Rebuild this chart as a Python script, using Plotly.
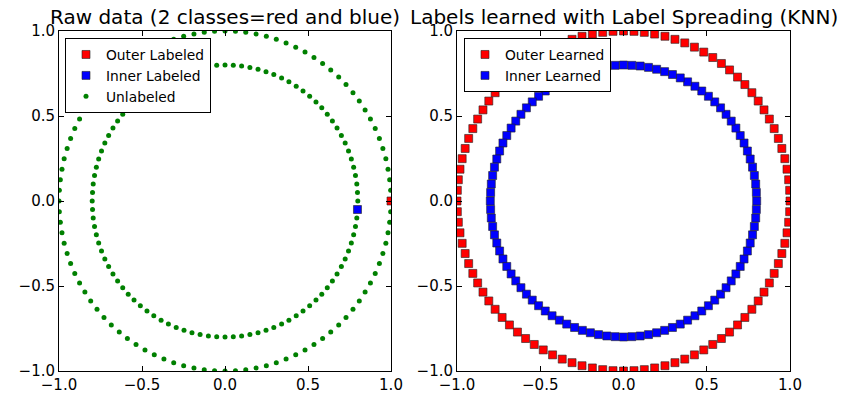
import plotly.graph_objects as go

# make_circles(n_samples=200, factor=0.8, shuffle=False): outer circle (class 0), inner circle (class 1)
outer_x = [1.0, 0.998, 0.992, 0.982, 0.969, 0.951, 0.930, 0.905, 0.876, 0.844, 0.809, 0.771, 0.729,
           0.685, 0.637, 0.588, 0.536, 0.482, 0.426, 0.368, 0.309, 0.249, 0.187, 0.125, 0.063, 0.0,
           -0.063, -0.125, -0.187, -0.249, -0.309, -0.368, -0.426, -0.482, -0.536, -0.588, -0.637,
           -0.685, -0.729, -0.771, -0.809, -0.844, -0.876, -0.905, -0.930, -0.951, -0.969, -0.982,
           -0.992, -0.998, -1.0,
           -0.998, -0.992, -0.982, -0.969, -0.951, -0.930, -0.905, -0.876, -0.844, -0.809, -0.771,
           -0.729, -0.685, -0.637, -0.588, -0.536, -0.482, -0.426, -0.368, -0.309, -0.249, -0.187,
           -0.125, -0.063, 0.0,
           0.063, 0.125, 0.187, 0.249, 0.309, 0.368, 0.426, 0.482, 0.536, 0.588, 0.637, 0.685,
           0.729, 0.771, 0.809, 0.844, 0.876, 0.905, 0.930, 0.951, 0.969, 0.982, 0.992, 0.998]
outer_y = [0.0, 0.063, 0.125, 0.187, 0.249, 0.309, 0.368, 0.426, 0.482, 0.536, 0.588, 0.637, 0.685,
           0.729, 0.771, 0.809, 0.844, 0.876, 0.905, 0.930, 0.951, 0.969, 0.982, 0.992, 0.998, 1.0,
           0.998, 0.992, 0.982, 0.969, 0.951, 0.930, 0.905, 0.876, 0.844, 0.809, 0.771, 0.729,
           0.685, 0.637, 0.588, 0.536, 0.482, 0.426, 0.368, 0.309, 0.249, 0.187, 0.125, 0.063, 0.0,
           -0.063, -0.125, -0.187, -0.249, -0.309, -0.368, -0.426, -0.482, -0.536, -0.588, -0.637,
           -0.685, -0.729, -0.771, -0.809, -0.844, -0.876, -0.905, -0.930, -0.951, -0.969, -0.982,
           -0.992, -0.998, -1.0,
           -0.998, -0.992, -0.982, -0.969, -0.951, -0.930, -0.905, -0.876, -0.844, -0.809, -0.771,
           -0.729, -0.685, -0.637, -0.588, -0.536, -0.482, -0.426, -0.368, -0.309, -0.249, -0.187,
           -0.125, -0.063]
inner_x = [0.8, 0.798, 0.794, 0.786, 0.775, 0.761, 0.744, 0.724, 0.701, 0.675, 0.647, 0.616, 0.583,
           0.548, 0.510, 0.470, 0.429, 0.385, 0.341, 0.294, 0.247, 0.199, 0.150, 0.100, 0.050, 0.0,
           -0.050, -0.100, -0.150, -0.199, -0.247, -0.294, -0.341, -0.385, -0.429, -0.470, -0.510,
           -0.548, -0.583, -0.616, -0.647, -0.675, -0.701, -0.724, -0.744, -0.761, -0.775, -0.786,
           -0.794, -0.798, -0.8,
           -0.798, -0.794, -0.786, -0.775, -0.761, -0.744, -0.724, -0.701, -0.675, -0.647, -0.616,
           -0.583, -0.548, -0.510, -0.470, -0.429, -0.385, -0.341, -0.294, -0.247, -0.199, -0.150,
           -0.100, -0.050, 0.0,
           0.050, 0.100, 0.150, 0.199, 0.247, 0.294, 0.341, 0.385, 0.429, 0.470, 0.510, 0.548,
           0.583, 0.616, 0.647, 0.675, 0.701, 0.724, 0.744, 0.761, 0.775, 0.786, 0.794, 0.798]
inner_y = [0.0, 0.050, 0.100, 0.150, 0.199, 0.247, 0.294, 0.341, 0.385, 0.429, 0.470, 0.510, 0.548,
           0.583, 0.616, 0.647, 0.675, 0.701, 0.724, 0.744, 0.761, 0.775, 0.786, 0.794, 0.798, 0.8,
           0.798, 0.794, 0.786, 0.775, 0.761, 0.744, 0.724, 0.701, 0.675, 0.647, 0.616, 0.583,
           0.548, 0.510, 0.470, 0.429, 0.385, 0.341, 0.294, 0.247, 0.199, 0.150, 0.100, 0.050, 0.0,
           -0.050, -0.100, -0.150, -0.199, -0.247, -0.294, -0.341, -0.385, -0.429, -0.470, -0.510,
           -0.548, -0.583, -0.616, -0.647, -0.675, -0.701, -0.724, -0.744, -0.761, -0.775, -0.786,
           -0.794, -0.798, -0.8,
           -0.798, -0.794, -0.786, -0.775, -0.761, -0.744, -0.724, -0.701, -0.675, -0.647, -0.616,
           -0.583, -0.548, -0.510, -0.470, -0.429, -0.385, -0.341, -0.294, -0.247, -0.199, -0.150,
           -0.100, -0.050]

X = outer_x + inner_x
Y = outer_y + inner_y
# given labels: -1 = unlabeled, 0 = outer, 1 = inner
labels = [0] + [-1] * 198 + [1]
# labels learned by label spreading
learned = [0] * 100 + [1] * 100

tick_vals = [-1.0, -0.5, 0.0, 0.5, 1.0]
tick_text = ["\u22121.0", "\u22120.5", "0.0", "0.5", "1.0"]
titles = ["Raw data (2 classes=red and blue)", "Labels learned with Label Spreading (KNN)"]

FONT = "DejaVu Sans"
RED = "#ff0000"
BLUE = "#0000ff"
GREEN = "#008000"
EDGE = dict(color="#222222", width=0.6)

def pick(vals, labs, target):
    return [v for v, l in zip(vals, labs) if l == target]

fig = go.Figure()

# left panel
fig.add_trace(go.Scatter(x=pick(X, labels, 0), y=pick(Y, labels, 0), mode="markers",
                         name="Outer Labeled", xaxis="x", yaxis="y", legend="legend",
                         marker=dict(symbol="square", size=8, color=RED, line=EDGE)))
fig.add_trace(go.Scatter(x=pick(X, labels, 1), y=pick(Y, labels, 1), mode="markers",
                         name="Inner Labeled", xaxis="x", yaxis="y", legend="legend",
                         marker=dict(symbol="square", size=8, color=BLUE, line=EDGE)))
fig.add_trace(go.Scatter(x=pick(X, labels, -1), y=pick(Y, labels, -1), mode="markers",
                         name="Unlabeled", xaxis="x", yaxis="y", legend="legend",
                         marker=dict(symbol="circle", size=5, color=GREEN, line=dict(width=0))))

# right panel
fig.add_trace(go.Scatter(x=pick(X, learned, 0), y=pick(Y, learned, 0), mode="markers",
                         name="Outer Learned", xaxis="x2", yaxis="y2", legend="legend2",
                         marker=dict(symbol="square", size=8, color=RED, line=EDGE)))
fig.add_trace(go.Scatter(x=pick(X, learned, 1), y=pick(Y, learned, 1), mode="markers",
                         name="Inner Learned", xaxis="x2", yaxis="y2", legend="legend2",
                         marker=dict(symbol="square", size=8, color=BLUE, line=EDGE)))

# body margin is removed in the page (post_script), so the figure fills the whole 850x400 window
W, H = 850, 400

def px(x):
    return x / W

def py(y):
    return 1 - y / H

dom_x1 = [px(59), px(391)]
dom_x2 = [px(457), px(790)]
dom_y = [py(371), py(31)]

axis_common = dict(range=[-1, 1], tickvals=tick_vals, ticktext=tick_text, ticks="inside",
                   ticklen=5, tickcolor="black", tickwidth=1, showline=True, linecolor="black",
                   linewidth=1, mirror="ticks", showgrid=False, zeroline=False, automargin=False,
                   tickfont=dict(family=FONT, size=15, color="black"))

legend_common = dict(bgcolor="white", bordercolor="black", borderwidth=1,
                     font=dict(family=FONT, size=13.8, color="black"),
                     xanchor="left", yanchor="top", traceorder="normal")

fig.update_layout(
    width=W, height=H,
    margin=dict(l=0, r=0, t=0, b=0, autoexpand=False),
    paper_bgcolor="white", plot_bgcolor="white",
    font=dict(family=FONT, color="black"),
    xaxis=dict(domain=dom_x1, anchor="y", **axis_common),
    yaxis=dict(domain=dom_y, anchor="x", **axis_common),
    xaxis2=dict(domain=dom_x2, anchor="y2", **axis_common),
    yaxis2=dict(domain=dom_y, anchor="x2", **axis_common),
    legend=dict(x=px(65), y=py(38), **legend_common),
    legend2=dict(x=px(464), y=py(38), **legend_common),
    annotations=[
        dict(text=titles[0], x=(dom_x1[0] + dom_x1[1]) / 2, y=dom_y[1], xref="paper", yref="paper",
             xanchor="center", yanchor="bottom", showarrow=False,
             font=dict(family=FONT, size=20, color="black")),
        dict(text=titles[1], x=(dom_x2[0] + dom_x2[1]) / 2, y=dom_y[1], xref="paper", yref="paper",
             xanchor="center", yanchor="bottom", showarrow=False,
             font=dict(family=FONT, size=20, color="black")),
    ],
)

fig.write_html("out.html", config={"displayModeBar": False},
               post_script="document.body.style.margin='0px';document.body.style.overflow='hidden';")
